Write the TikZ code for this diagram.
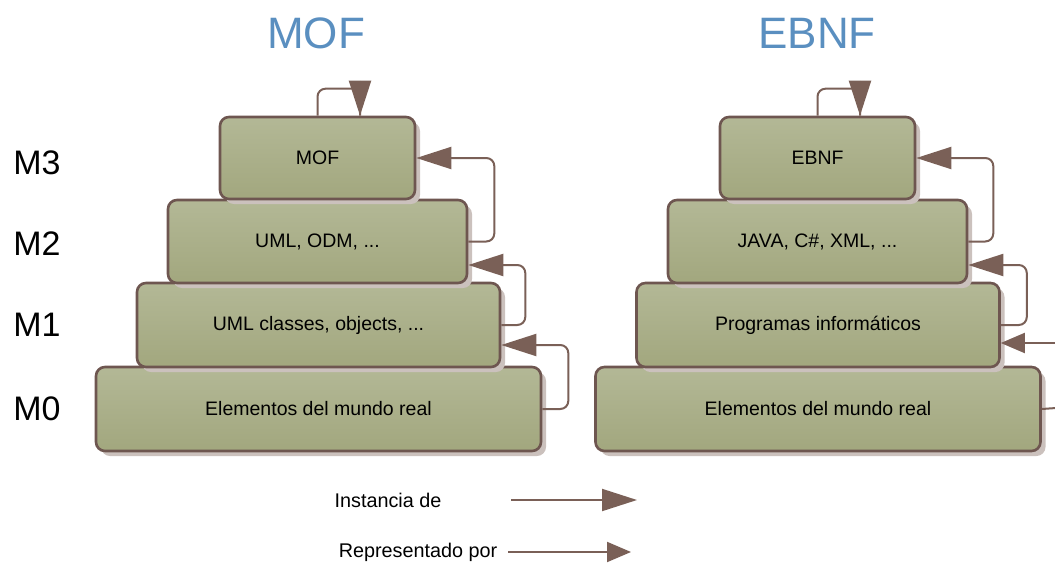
\documentclass[tikz,border=0pt]{standalone}
\usepackage{fontspec}
\setmainfont{Liberation Sans}
\usetikzlibrary{arrows.meta,shadows}
\definecolor{boxtop}{HTML}{B3B896}
\definecolor{boxbot}{HTML}{A2A77E}
\definecolor{boxline}{HTML}{6E5650}
\definecolor{arrowc}{HTML}{7A6057}
\definecolor{shadowc}{HTML}{CBC1BD}
\definecolor{titlec}{HTML}{5A8FC0}
\begin{document}
\begin{tikzpicture}[x=1pt,y=-1pt,
  levelbox/.style={draw=boxline, line width=2.6pt, rounded corners=9pt,
    top color=boxtop, bottom color=boxbot, inner sep=0pt,
    font=\fontsize{19.5}{23}\selectfont,
    drop shadow={shadow xshift=5pt, shadow yshift=-5pt, fill=shadowc, opacity=1}},
  conn/.style={draw=arrowc, line width=2pt, rounded corners=8pt},
  inst/.style={conn, -{Triangle[length=35pt,width=22pt]}},
  repr/.style={conn, -{Triangle[length=24pt,width=20pt]}},
  headonly/.style={draw=arrowc, line width=2pt, -{Triangle[length=35pt,width=22pt]}},
  title/.style={text=titlec, font=\fontsize{44}{50}\selectfont},
  level/.style={font=\fontsize{34}{40}\selectfont},
  legend/.style={font=\fontsize{19.8}{23}\selectfont}
]
\useasboundingbox (0,0) rectangle (1055,563);

% titles
\node[title] (tmof) at (316,33) {MOF};
\node[title] (tebnf) at (817,33) {EBNF};

% level labels
\node[level] (lm3) at (37,163) {M3};
\node[level] (lm2) at (37,244) {M2};
\node[level] (lm1) at (37,325) {M1};
\node[level] (lm0) at (37,409) {M0};

% MOF pyramid
\node[levelbox, minimum width=445pt, minimum height=84pt] (mof0) at (318.5,409) {Elementos del mundo real};
\node[levelbox, minimum width=363pt, minimum height=84pt] (mof1) at (318.5,325) {UML classes, objects, ...};
\node[levelbox, minimum width=299pt, minimum height=83pt] (mof2) at (317.5,241.5) {UML, ODM, ...};
\node[levelbox, minimum width=195pt, minimum height=82pt] (mof3) at (317.5,158) {MOF};

% EBNF pyramid
\node[levelbox, minimum width=445pt, minimum height=84pt] (ebnf0) at (818,409) {Elementos del mundo real};
\node[levelbox, minimum width=363pt, minimum height=84pt] (ebnf1) at (818,325) {Programas informáticos};
\node[levelbox, minimum width=299pt, minimum height=83pt] (ebnf2) at (817.5,241.5) {JAVA, C\#, XML, ...};
\node[levelbox, minimum width=195pt, minimum height=82pt] (ebnf3) at (817.5,158) {EBNF};

% MOF arrows
\draw[conn] (mof3.north) -- ++(0,-27) -| ([xshift=42.5pt]mof3.north);
\draw[headonly] ([xshift=42.5pt,yshift=35pt]mof3.north) -- ([xshift=42.5pt]mof3.north);
\draw[inst] (mof2.east) -- ++(26,0) |- (mof3.east);
\draw[inst] (mof1.east) -- ++(24,0) |- ([yshift=-23.5pt]mof2.east);
\draw[inst] (mof0.east) -- ++(26,0) |- ([yshift=-20pt]mof1.east);

% EBNF arrows
\draw[conn] (ebnf3.north) -- ++(0,-27) -| ([xshift=42.5pt]ebnf3.north);
\draw[headonly] ([xshift=42.5pt,yshift=35pt]ebnf3.north) -- ([xshift=42.5pt]ebnf3.north);
\draw[inst] (ebnf2.east) -- ++(25,0) |- (ebnf3.east);
\draw[inst] (ebnf1.east) -- ++(26,0) |- ([yshift=-23.5pt]ebnf2.east);
\coordinate (edgein) at (1056,343);
\coordinate (edgeout) at (1056,408);
\draw[repr] (edgein) -- ([yshift=-18pt]ebnf1.east);
\draw[conn] (ebnf0.east) -- (edgeout);

% legend
\node[legend] (linst) at (388,500) {Instancia de};
\coordinate (linstA) at (511,500);
\coordinate (linstB) at (637,500);
\draw[inst] (linstA) -- (linstB);
\node[legend] (lrep) at (418,552) {Representado por};
\coordinate (lrepA) at (508,552);
\coordinate (lrepB) at (631,552);
\draw[repr] (lrepA) -- (lrepB);
\end{tikzpicture}
\end{document}
